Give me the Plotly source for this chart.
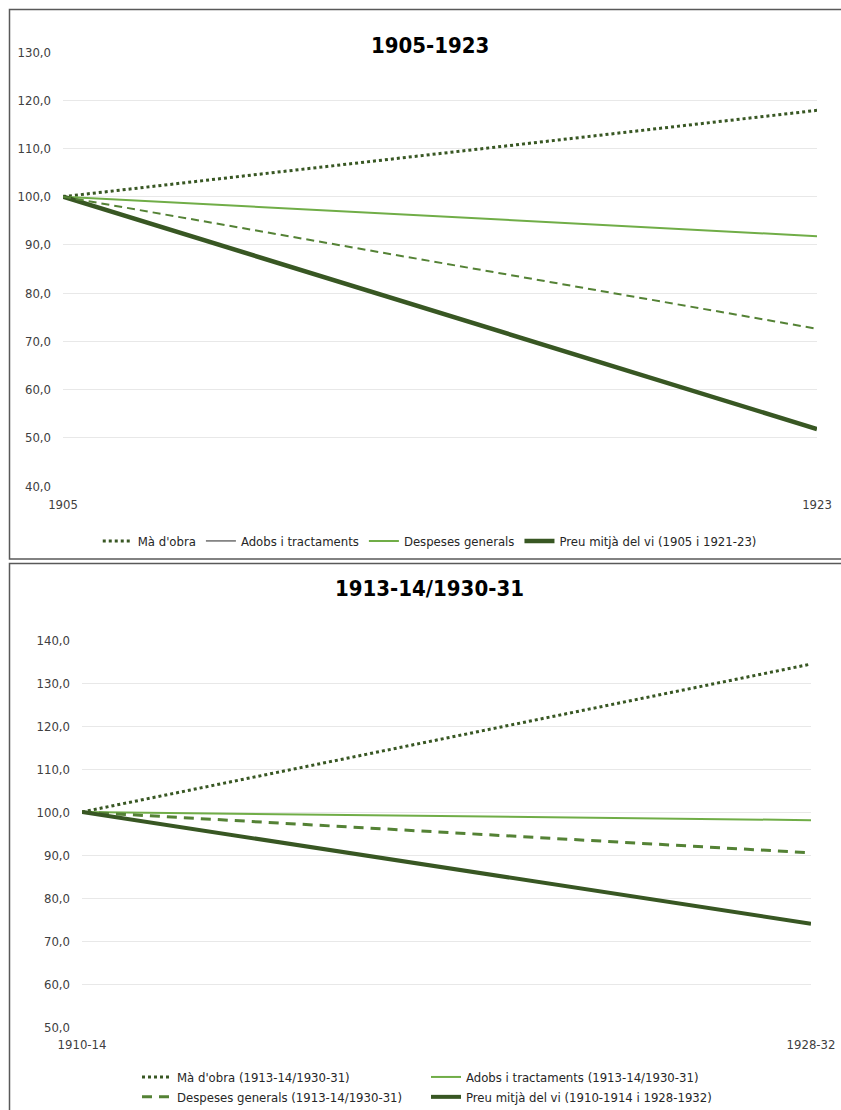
import plotly.graph_objects as go

# ---- data ----
x1 = ["1905", "1923"]
ma_obra_1 = [100.0, 117.9]
adobs_1 = [100.0, 72.6]
despeses_1 = [100.0, 91.8]
preu_1 = [100.0, 51.8]

x2 = ["1910-14", "1928-32"]
ma_obra_2 = [100.0, 134.4]
adobs_2 = [100.0, 98.1]
despeses_2 = [100.0, 90.5]
preu_2 = [100.0, 74.0]

W, H = 841, 1110
FONT = "DejaVu Sans Condensed, DejaVu Sans, sans-serif"
DARK = "#385723"
LIGHT = "#70AD47"
MID = "#548235"
GRID = "#e8e8e8"
BORDER = "#595959"

def px(xp):
    return xp / W

def py(yp):
    return 1 - yp / H

fig = go.Figure()

# ---- chart 1 ----
fig.add_trace(go.Scatter(x=x1, y=ma_obra_1, mode="lines", name="Mà d'obra",
                         line=dict(color=DARK, width=3, dash="dot"),
                         xaxis="x", yaxis="y", legend="legend"))
fig.add_trace(go.Scatter(x=[None], y=[None], mode="lines", name="Adobs i tractaments",
                         line=dict(color="#262626", width=1),
                         xaxis="x", yaxis="y", legend="legend"))
fig.add_trace(go.Scatter(x=x1, y=despeses_1, mode="lines", name="Despeses generals",
                         line=dict(color=LIGHT, width=2),
                         xaxis="x", yaxis="y", legend="legend"))
fig.add_trace(go.Scatter(x=x1, y=preu_1, mode="lines", name="Preu mitjà del vi (1905 i 1921-23)",
                         line=dict(color=DARK, width=4.5),
                         xaxis="x", yaxis="y", legend="legend"))
fig.add_trace(go.Scatter(x=x1, y=adobs_1, mode="lines", name="Adobs i tractaments",
                         line=dict(color=MID, width=2, dash="8px,5px"), showlegend=False,
                         xaxis="x", yaxis="y", legend="legend"))

# ---- chart 2 ----
fig.add_trace(go.Scatter(x=x2, y=ma_obra_2, mode="lines", name="Mà d'obra (1913-14/1930-31)",
                         line=dict(color=DARK, width=3, dash="dot"),
                         xaxis="x2", yaxis="y2", legend="legend2"))
fig.add_trace(go.Scatter(x=x2, y=adobs_2, mode="lines", name="Adobs i tractaments (1913-14/1930-31)",
                         line=dict(color=LIGHT, width=2),
                         xaxis="x2", yaxis="y2", legend="legend2"))
fig.add_trace(go.Scatter(x=x2, y=despeses_2, mode="lines", name="Despeses generals (1913-14/1930-31)",
                         line=dict(color=MID, width=3, dash="10px,7px"),
                         xaxis="x2", yaxis="y2", legend="legend2"))
fig.add_trace(go.Scatter(x=x2, y=preu_2, mode="lines", name="Preu mitjà del vi (1910-1914 i 1928-1932)",
                         line=dict(color=DARK, width=4),
                         xaxis="x2", yaxis="y2", legend="legend2"))

tickfont = dict(family=FONT, size=13, color="#404040")
xcommon = dict(type="category", range=[0, 1], showgrid=False, zeroline=False,
               showline=False, ticks="", tickfont=tickfont, automargin=False,
               fixedrange=True)
ycommon = dict(dtick=10, tickformat=".1f", showgrid=True, gridcolor=GRID, gridwidth=1,
               zeroline=False, showline=False, tickfont=tickfont, automargin=False,
               ticklabelstandoff=11, fixedrange=True)

fig.update_layout(
    width=W, height=H,
    margin=dict(l=0, r=0, t=0, b=0, autoexpand=False),
    paper_bgcolor="white", plot_bgcolor="white",
    separators=",.",
    font=dict(family=FONT, size=13, color="#404040"),
    xaxis=dict(domain=[px(63), px(817)], anchor="y", ticklabelstandoff=9, **xcommon),
    yaxis=dict(domain=[py(486), py(52)], range=[40, 130], anchor="x", **ycommon),
    xaxis2=dict(domain=[px(82), px(811)], anchor="y2", ticklabelstandoff=8, **xcommon),
    yaxis2=dict(domain=[py(1027), py(640)], range=[50, 140], anchor="x2", **ycommon),
    legend=dict(orientation="h", x=0.511, y=py(541), xanchor="center", yanchor="middle",
                font=dict(family=FONT, size=13, color="#262626"),
                itemwidth=30, traceorder="normal", bgcolor="rgba(0,0,0,0)"),
    legend2=dict(orientation="h", x=px(137), y=py(1062), xanchor="left", yanchor="top",
                 font=dict(family=FONT, size=13, color="#262626"),
                 entrywidth=244, entrywidthmode="pixels",
                 itemwidth=30, traceorder="normal", bgcolor="rgba(0,0,0,0)"),
    showlegend=True,
)

fig.add_annotation(text="<b>1905-1923</b>", x=0.511, y=py(31), xref="paper", yref="paper",
                   showarrow=False, font=dict(family=FONT, size=22, color="#000000"))
fig.add_annotation(text="<b>1913-14/1930-31</b>", x=0.511, y=py(588), xref="paper", yref="paper",
                   showarrow=False, font=dict(family=FONT, size=22, color="#000000"))

# panel borders
fig.add_shape(type="path", xref="paper", yref="paper",
              path=f"M {px(W + 5)} {py(9.5)} L {px(9.5)} {py(9.5)} L {px(9.5)} {py(559)} L {px(W + 5)} {py(559)}",
              line=dict(color=BORDER, width=1.5))
fig.add_shape(type="path", xref="paper", yref="paper",
              path=f"M {px(W + 5)} {py(563.5)} L {px(9.5)} {py(563.5)} L {px(9.5)} {py(H + 5)}",
              line=dict(color=BORDER, width=1.5))

fig.write_html("out.html", config={"displayModeBar": False},
               post_script="document.body.style.margin='0';document.body.style.overflow='hidden';")
